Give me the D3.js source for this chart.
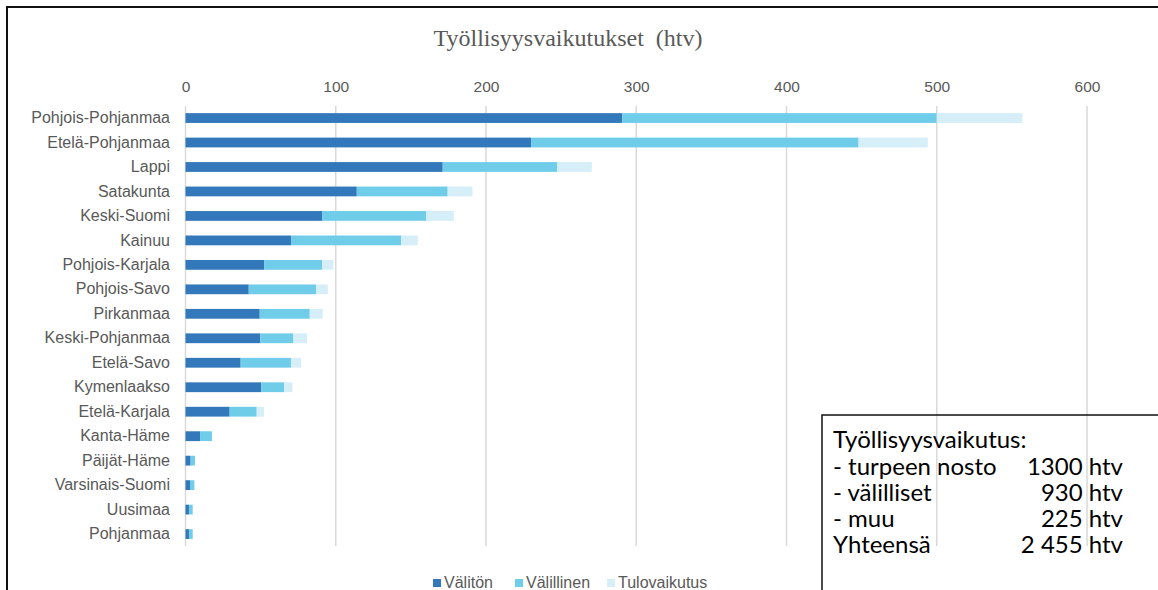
<!DOCTYPE html>
<html>
<head>
<meta charset="utf-8">
<script src="https://cdn.jsdelivr.net/npm/d3@7"></script>
<style>
  html, body { margin: 0; padding: 0; background: #fff; overflow: hidden; }
  svg { display: block; }
</style>
</head>
<body>
<svg id="chart" width="1158" height="590"></svg>
<script>
const categories = [
  "Pohjois-Pohjanmaa", "Etelä-Pohjanmaa", "Lappi", "Satakunta", "Keski-Suomi",
  "Kainuu", "Pohjois-Karjala", "Pohjois-Savo", "Pirkanmaa", "Keski-Pohjanmaa",
  "Etelä-Savo", "Kymenlaakso", "Etelä-Karjala", "Kanta-Häme", "Päijät-Häme",
  "Varsinais-Suomi", "Uusimaa", "Pohjanmaa"
];
const valiton      = [290.6, 230.0, 171.2, 114.0, 90.9, 70.2, 52.3, 42.1, 49.4, 49.8, 36.7, 50.5, 29.4, 9.7, 3.4, 3.0, 2.3, 2.3];
const valillinen   = [209.4, 218.0, 76.3, 60.5, 69.4, 73.3, 38.6, 44.8, 33.3, 22.0, 33.5, 15.1, 18.0, 7.9, 2.9, 2.9, 2.5, 2.5];
const tulovaikutus = [57.0, 46.0, 22.9, 16.5, 18.3, 11.1, 7.5, 7.8, 8.6, 9.1, 6.7, 5.5, 4.9, 0, 0, 0, 0, 0];
const seriesNames = ["Välitön", "Välillinen", "Tulovaikutus"];
const seriesColors = ["#3378BA", "#70CDEA", "#D5EEF7"];
const xTicks = [0, 100, 200, 300, 400, 500, 600];
const title = "Työllisyysvaikutukset  (htv)";
const boxHeading = "Työllisyysvaikutus:";
const boxLabels = ["- turpeen nosto", "- välilliset", "- muu", "Yhteensä"];
const boxValues = ["1300 htv", "930 htv", "225 htv", "2 455 htv"];

const svg = d3.select("#chart");
const textGray = "#595959";

const x = d3.scaleLinear().domain([0, 600]).range([185.5, 1087]);
const y = d3.scaleBand().domain(categories).range([105.8, 546.3]).paddingInner(0.6).paddingOuter(0.3);

// outer frame
svg.append("rect").attr("x", 7).attr("y", 7).attr("width", 1200).attr("height", 700)
  .attr("fill", "none").attr("stroke", "#111").attr("stroke-width", 2);

// title
svg.append("text").attr("x", 568).attr("y", 46).attr("text-anchor", "middle")
  .attr("font-family", "'Liberation Serif', 'Times New Roman', serif").attr("font-size", 24)
  .attr("fill", textGray).style("white-space", "pre").text(title);

// gridlines
svg.append("g").selectAll("line").data(xTicks).join("line")
  .attr("x1", d => x(d)).attr("x2", d => x(d))
  .attr("y1", 106).attr("y2", 546)
  .attr("stroke", "#d9d9d9").attr("stroke-width", 1.5);

// top axis labels
const axis = d3.axisTop(x).tickValues(xTicks).tickSize(0).tickPadding(0);
const gAxis = svg.append("g").attr("transform", "translate(0,92)").call(axis);
gAxis.select(".domain").remove();
gAxis.selectAll("text").attr("font-family", "'Liberation Sans', Arial, sans-serif")
  .attr("font-size", 15.5).attr("fill", textGray);

// category labels
const yAxis = d3.axisLeft(y).tickSize(0).tickPadding(0);
const gY = svg.append("g").attr("transform", "translate(170,0)").call(yAxis);
gY.select(".domain").remove();
gY.selectAll("text").attr("font-family", "'Liberation Sans', Arial, sans-serif")
  .attr("font-size", 16).attr("fill", textGray);

// stacked bars
const rows = categories.map((c, i) => ({ cat: c, "Välitön": valiton[i], "Välillinen": valillinen[i], "Tulovaikutus": tulovaikutus[i] }));
const stack = d3.stack().keys(seriesNames)(rows);
svg.append("g").selectAll("g").data(stack).join("g")
  .attr("fill", (d, i) => seriesColors[i])
  .selectAll("rect").data(d => d).join("rect")
  .attr("x", d => x(d[0]))
  .attr("width", d => Math.max(0, x(d[1]) - x(d[0])))
  .attr("y", d => y(d.data.cat))
  .attr("height", y.bandwidth());

// legend
const legendX = [433, 515, 607];
const lg = svg.append("g").selectAll("g").data(seriesNames).join("g")
  .attr("transform", (d, i) => `translate(${legendX[i]},0)`);
lg.append("rect").attr("x", 0).attr("y", 579).attr("width", 8).attr("height", 8)
  .attr("fill", (d, i) => seriesColors[i]);
lg.append("text").attr("x", 11).attr("y", 588)
  .attr("font-family", "'Liberation Sans', Arial, sans-serif").attr("font-size", 16)
  .attr("fill", textGray).text(d => d);

// summary box
svg.append("rect").attr("x", 822).attr("y", 415).attr("width", 400).attr("height", 300)
  .attr("fill", "none").attr("stroke", "#111").attr("stroke-width", 1.5);
const boxFont = "Lato, 'Open Sans', sans-serif";
const boxSize = 24;
svg.append("text").attr("x", 833).attr("y", 448).attr("font-family", boxFont)
  .attr("font-size", boxSize).attr("fill", "#000").text(boxHeading);
const lineY = [474.5, 500.8, 527, 553.3];
svg.append("g").selectAll("text").data(boxLabels).join("text")
  .attr("x", 833).attr("y", (d, i) => lineY[i]).attr("font-family", boxFont)
  .attr("font-size", boxSize).attr("fill", "#000").text(d => d);
svg.append("g").selectAll("text").data(boxValues).join("text")
  .attr("x", 1123).attr("y", (d, i) => lineY[i]).attr("text-anchor", "end")
  .attr("font-family", boxFont).attr("font-size", boxSize).attr("fill", "#000").text(d => d);
</script>
</body>
</html>
